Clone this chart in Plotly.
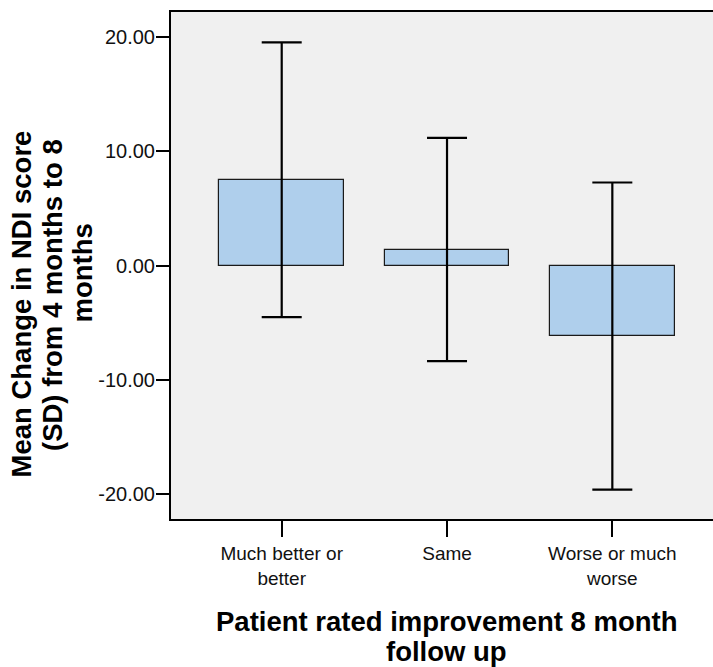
import plotly.graph_objects as go

categories = ["Much better or<br>better", "Same", "Worse or much<br>worse"]
mean_change = [7.51, 1.40, -6.18]
sd_change = [12.03, 9.77, 13.45]
y_tick_vals = [-20, -10, 0, 10, 20]
y_tick_text = ["-20.00", "-10.00", "0.00", "10.00", "20.00"]
y_title_lines = ["Mean Change in NDI score", "(SD) from 4 months to 8", "months"]
x_title_lines = ["Patient rated improvement 8 month", "follow up"]

FONT = "Liberation Sans, Arial, sans-serif"
W, H = 713, 667
L, R, T, B = 171, 0, 12, 148
PW, PH = W - L - R, H - T - B

def px_x(px):
    return (px - L) / PW

def px_y(py):
    return (H - B - py) / PH

xs = list(range(len(categories)))

fig = go.Figure()
fig.add_trace(go.Bar(
    x=xs, y=mean_change, width=0.754,
    marker=dict(color="#AFCFEC", line=dict(color="#1a1a1a", width=1.2)),
    error_y=dict(type="data", array=sd_change, visible=True,
                 color="black", thickness=2.2, width=20),
    showlegend=False, hoverinfo="skip",
))

fig.update_layout(
    width=W, height=H,
    margin=dict(l=L, r=R, t=T, b=B, pad=0),
    paper_bgcolor="white", plot_bgcolor="#F0F0F0",
    font=dict(family=FONT, color="black"),
    bargap=0,
)
fig.update_xaxes(
    range=[-0.6697, 2.609], tickvals=xs, ticktext=categories,
    showline=True, linecolor="black", linewidth=2, mirror=True,
    ticks="outside", ticklen=16, tickwidth=2, tickcolor="black",
    tickfont=dict(size=19, family=FONT, color="#111"),
    showgrid=False, zeroline=False, fixedrange=True,
)
fig.update_yaxes(
    range=[-22.2, 22.2], tickvals=y_tick_vals, ticktext=y_tick_text,
    showline=True, linecolor="black", linewidth=2,
    ticks="outside", ticklen=13, tickwidth=2, tickcolor="black",
    tickfont=dict(size=20, family=FONT, color="#111"),
    ticklabelstandoff=-3,
    showgrid=False, zeroline=False, fixedrange=True,
)

# y-axis title, three separately centred lines
y_line_pos = [(21, 304.5), (52, 295), (82, 273.5)]
for text, (cx, cy) in zip(y_title_lines, y_line_pos):
    fig.add_annotation(
        text="<b>" + text + "</b>", textangle=-90,
        xref="paper", yref="paper", x=px_x(cx), y=px_y(cy),
        xanchor="center", yanchor="middle", showarrow=False,
        font=dict(size=27.5, family=FONT, color="black"),
    )

# x-axis title, two lines
x_line_pos = [(446, 621), (446, 651)]
for text, (cx, cy) in zip(x_title_lines, x_line_pos):
    fig.add_annotation(
        text="<b>" + text + "</b>",
        xref="paper", yref="paper", x=px_x(cx), y=px_y(cy),
        xanchor="center", yanchor="middle", showarrow=False,
        font=dict(size=27.5, family=FONT, color="black"),
    )

fig.write_html("out.html", config={"displayModeBar": False})
